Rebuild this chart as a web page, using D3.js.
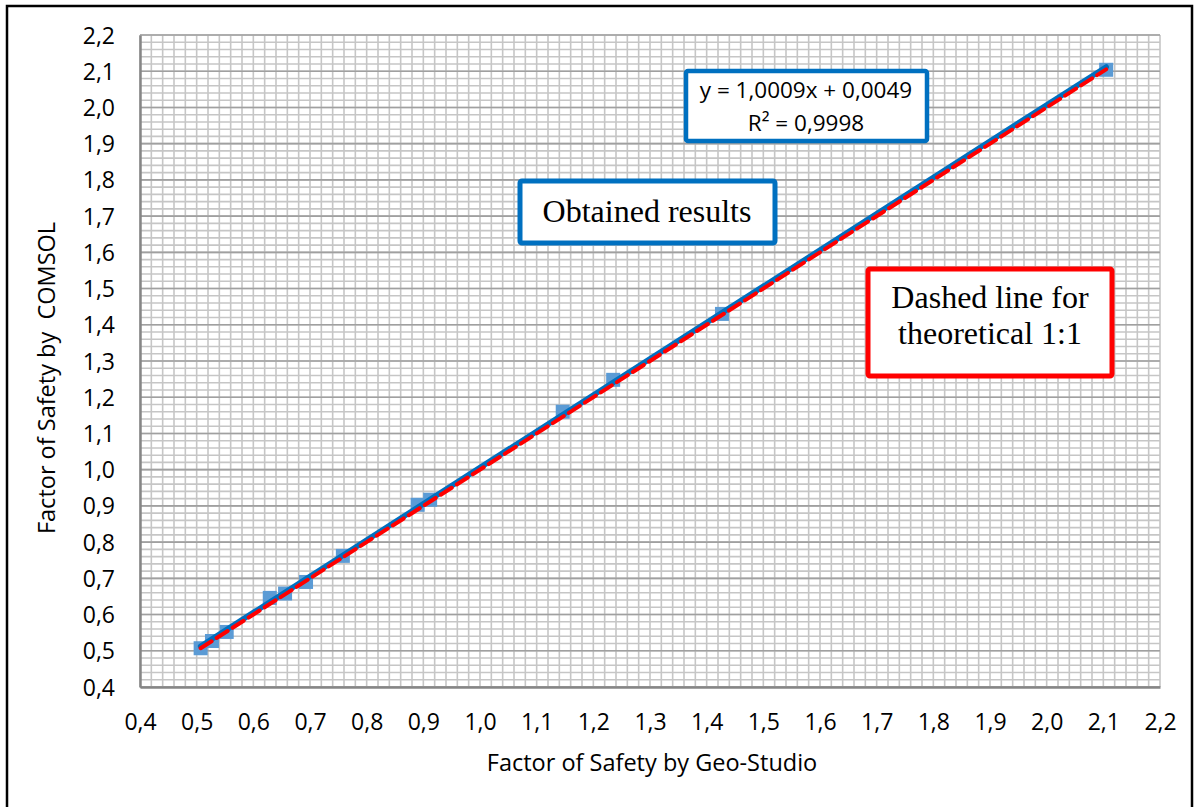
<!DOCTYPE html>
<html>
<head>
<meta charset="utf-8">
<script src="https://cdn.jsdelivr.net/npm/d3@7"></script>
<style>
  body { margin: 0; background: #fff; }
  svg { display: block; }
</style>
</head>
<body>
<svg id="chart" width="1194" height="807"></svg>
<script>
// ---- data ----
const fosGeoStudio = [0.507, 0.527, 0.553, 0.629, 0.656, 0.693, 0.758, 0.890, 0.912, 1.146, 1.235, 1.427, 2.105];
const fosComsol    = [0.507, 0.527, 0.552, 0.646, 0.658, 0.690, 0.762, 0.903, 0.917, 1.160, 1.248, 1.430, 2.104];
const fitSlope = 1.0009;
const fitIntercept = 0.0049;
const fitR2 = 0.9998;
const xTickValues = [0.4,0.5,0.6,0.7,0.8,0.9,1.0,1.1,1.2,1.3,1.4,1.5,1.6,1.7,1.8,1.9,2.0,2.1,2.2];
const yTickValues = [0.4,0.5,0.6,0.7,0.8,0.9,1.0,1.1,1.2,1.3,1.4,1.5,1.6,1.7,1.8,1.9,2.0,2.1,2.2];
const xTitle = "Factor of Safety by Geo-Studio";
const yTitle = "Factor of Safety by  COMSOL";
const eqText = ["y = 1,0009x + 0,0049", "R² = 0,9998"];
const obtainedLabel = "Obtained results";
const dashedLabel = ["Dashed line for", "theoretical 1:1"];

// ---- layout ----
const svg = d3.select("#chart");
const L = 140, R = 1160, T = 35, B = 687;
const x = d3.scaleLinear().domain([0.4, 2.2]).range([L, R]);
const y = d3.scaleLinear().domain([0.4, 2.2]).range([B, T]);
const fmt = v => d3.format(".1f")(v).replace(".", ",");
const sans = "'Open Sans', Lato, sans-serif";
const serif = "'Liberation Serif', 'DejaVu Serif', serif";

// outer frame
svg.append("rect").attr("x", 7).attr("y", 6).attr("width", 1185).attr("height", 820)
  .attr("fill", "none").attr("stroke", "#000").attr("stroke-width", 2.5);

// minor grid
const minor = d3.range(0, 91).map(i => 0.4 + i * 0.02);
const g = svg.append("g");
g.selectAll(".mx").data(minor).join("line")
  .attr("x1", d => x(d)).attr("x2", d => x(d)).attr("y1", T).attr("y2", B)
  .attr("stroke", "#c6c6c6").attr("stroke-width", 1.6);
g.selectAll(".my").data(minor).join("line")
  .attr("y1", d => y(d)).attr("y2", d => y(d)).attr("x1", L).attr("x2", R)
  .attr("stroke", "#c6c6c6").attr("stroke-width", 1.6);
// major grid (horizontal)
g.selectAll(".My").data(yTickValues).join("line")
  .attr("y1", d => y(d)).attr("y2", d => y(d)).attr("x1", L).attr("x2", R)
  .attr("stroke", "#a0a0a0").attr("stroke-width", 1.6);

// axes
const xAxis = d3.axisBottom(x).tickValues(xTickValues).tickFormat(fmt).tickSize(0).tickPadding(27);
const yAxis = d3.axisLeft(y).tickValues(yTickValues).tickFormat(fmt).tickSize(0).tickPadding(25);
const gx = svg.append("g").attr("transform", `translate(0,${B})`).call(xAxis);
const gy = svg.append("g").attr("transform", `translate(${L},0)`).call(yAxis);
[gx, gy].forEach(a => {
  a.select(".domain").attr("stroke", "#868686").attr("stroke-width", 2.5);
  a.selectAll("text").attr("font-family", sans).attr("font-size", 23).attr("fill", "#000");
});
gy.selectAll("text").attr("dy", "0.35em");

// titles
svg.append("text").attr("x", (L + R) / 2 + 2).attr("y", 771).attr("text-anchor", "middle")
  .attr("font-family", sans).attr("font-size", 23.5).text(xTitle);
svg.append("text").attr("transform", `translate(55,${(T + B) / 2 + 17}) rotate(-90)`).attr("text-anchor", "middle")
  .attr("font-family", sans).attr("font-size", 23.5).style("white-space", "pre").text(yTitle);

// points
const pts = fosGeoStudio.map((v, i) => ({ x: v, y: fosComsol[i] }));
svg.append("g").selectAll("rect").data(pts).join("rect")
  .attr("x", d => x(d.x) - 7).attr("y", d => y(d.y) - 7)
  .attr("width", 14).attr("height", 14).attr("fill", "#5b9bd5");

// trend line
const xmin = d3.min(fosGeoStudio), xmax = d3.max(fosGeoStudio);
svg.append("line")
  .attr("x1", x(xmin)).attr("y1", y(fitSlope * xmin + fitIntercept))
  .attr("x2", x(xmax)).attr("y2", y(fitSlope * xmax + fitIntercept))
  .attr("stroke", "#0070c0").attr("stroke-width", 5.5).attr("stroke-linecap", "round");
// 1:1 line
svg.append("line")
  .attr("x1", x(xmin)).attr("y1", y(xmin))
  .attr("x2", x(xmax)).attr("y2", y(xmax))
  .attr("stroke", "#ff0000").attr("stroke-width", 4).attr("stroke-dasharray", "13,6").attr("stroke-linecap", "round");

// equation box
svg.append("rect").attr("x", 686).attr("y", 71).attr("width", 241).attr("height", 70)
  .attr("fill", "#fff").attr("stroke", "#0070c0").attr("stroke-width", 4.5).attr("rx", 2);
eqText.forEach((t, i) => svg.append("text").attr("x", 806).attr("y", 98 + i * 33)
  .attr("text-anchor", "middle").attr("font-family", sans).attr("font-size", 22.5).text(t));

// obtained results box
svg.append("rect").attr("x", 520).attr("y", 181).attr("width", 255).attr("height", 62)
  .attr("fill", "#fff").attr("stroke", "#0070c0").attr("stroke-width", 5).attr("rx", 2);
svg.append("text").attr("x", 647).attr("y", 222).attr("text-anchor", "middle")
  .attr("font-family", serif).attr("font-size", 32).text(obtainedLabel);

// dashed label box
svg.append("rect").attr("x", 868).attr("y", 269).attr("width", 244).attr("height", 107)
  .attr("fill", "#fff").attr("stroke", "#ff0000").attr("stroke-width", 5).attr("rx", 2);
dashedLabel.forEach((t, i) => svg.append("text").attr("x", 990).attr("y", 308 + i * 36)
  .attr("text-anchor", "middle").attr("font-family", serif).attr("font-size", 32).text(t));
</script>
</body>
</html>
